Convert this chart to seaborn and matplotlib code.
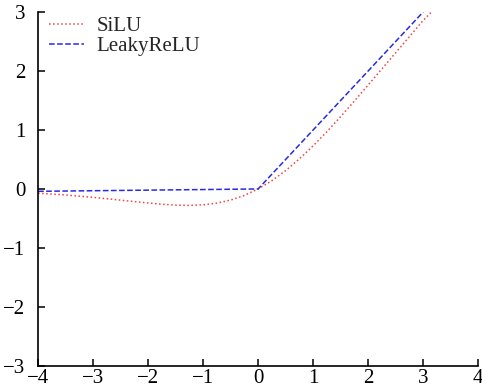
import matplotlib
matplotlib.use("Agg")
import matplotlib.pyplot as plt
import seaborn as sns
import pandas as pd

# values
silu_x = [-4.0, -3.5, -3.0, -2.5, -2.0, -1.75, -1.5, -1.25, -1.0, -0.75, -0.5, -0.25,
          0.0, 0.25, 0.5, 0.75, 1.0, 1.25, 1.5, 1.75, 2.0, 2.25, 2.5, 2.75, 3.0, 3.15]
silu_y = [-0.072, -0.102, -0.142, -0.190, -0.238, -0.259, -0.274, -0.279, -0.269, -0.240,
          -0.189, -0.110, 0.0, 0.140, 0.311, 0.510, 0.731, 0.971, 1.226, 1.491, 1.762,
          2.036, 2.309, 2.583, 2.857, 3.0]
leaky_x = [-4.0, 0.0, 3.0]
leaky_y = [-0.04, 0.0, 3.0]
labels = ["SiLU", "LeakyReLU"]
xticks = [-4, -3, -2, -1, 0, 1, 2, 3, 4]
yticks = [-3, -2, -1, 0, 1, 2, 3]

sns.set_style("ticks")
plt.rcParams["font.family"] = ["Liberation Serif", "DejaVu Serif"]

fig = plt.figure(figsize=(4.82, 3.88), dpi=100)
ax = fig.add_axes([0.079, 0.057, 0.913, 0.912])

df_s = pd.DataFrame({"x": silu_x, "y": silu_y})
df_l = pd.DataFrame({"x": leaky_x, "y": leaky_y})
sns.lineplot(data=df_s, x="x", y="y", ax=ax, color="#ee4444", linestyle=":", linewidth=1.1,
             label=labels[0], sort=False)
sns.lineplot(data=df_l, x="x", y="y", ax=ax, color="#2a2ae0", linestyle="--", linewidth=1.1,
             dashes=(2.6, 1.8), label=labels[1], sort=False)

ax.set_xlim(-4, 4)
ax.set_ylim(-3, 3)
ax.set_xticks(xticks)
ax.set_yticks(yticks)
ax.set_xlabel("")
ax.set_ylabel("")
for s in ["top", "right"]:
    ax.spines[s].set_visible(False)
for s in ["left", "bottom"]:
    ax.spines[s].set_linewidth(1.2)
    ax.spines[s].set_color("black")
ax.tick_params(direction="in", length=5, width=1.1, labelsize=15, colors="black")
ax.tick_params(axis="y", pad=9)
ax.tick_params(axis="x", pad=2.5)

leg = ax.legend(loc="upper left", frameon=False, fontsize=15, handlelength=1.7,
                borderaxespad=0.0, labelspacing=0.0, handletextpad=0.6,
                bbox_to_anchor=(0.005, 1.01))

fig.savefig("out.png", dpi=100)
